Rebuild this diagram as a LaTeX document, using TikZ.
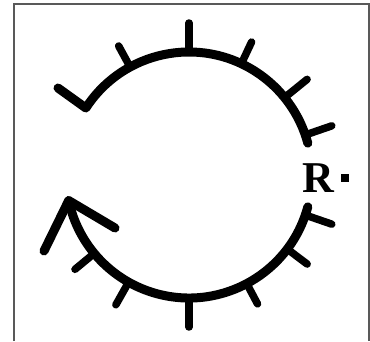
\documentclass[tikz,border=0pt]{standalone}
\usepackage{fontspec}
\setmainfont{Liberation Serif}
\usetikzlibrary{calc}
\begin{document}
\begin{tikzpicture}[x=1pt,y=1pt,
  frame/.style={draw=black!65, line width=2pt},
  ring/.style={draw=black, line width=9pt, line cap=round, line join=round},
  tick/.style={draw=black, line width=7.5pt, line cap=round}]
\useasboundingbox (0,0) rectangle (370,341);
\draw[frame] (14,0) -- (14,337) -- (369,337) -- (369,0);
\coordinate (c) at (189,166);
% upper arc
\draw[ring] (58,253) -- ($(c)+(147:123)$) coordinate (ua) arc[start angle=147, end angle=15, radius=123];
% lower arc with open arrowhead
\draw[ring] ($(c)+(-15:123)$) arc[start angle=-15, end angle=-168, radius=123] coordinate (tip);
\coordinate (armA) at (44,90);
\coordinate (armB) at (115,113);
\draw[ring] (armA) -- (tip) -- (armB);
% ticks
\foreach \a/\l in {118.6/24, 90/29, 64.8/24, 39/29, 19/28, -19/28, -37/25, -62/23, -90/29, -119.4/26, -140.4/25}
  \draw[tick] ($(c)+(\a:123)$) -- ($(c)+(\a:123+\l)$);
\node[font=\fontsize{44}{44}\selectfont\bfseries, inner sep=0pt, anchor=base west] (R) at (302,149) {R\hspace{7pt}\rule[10pt]{8pt}{8pt}};
\end{tikzpicture}
\end{document}
